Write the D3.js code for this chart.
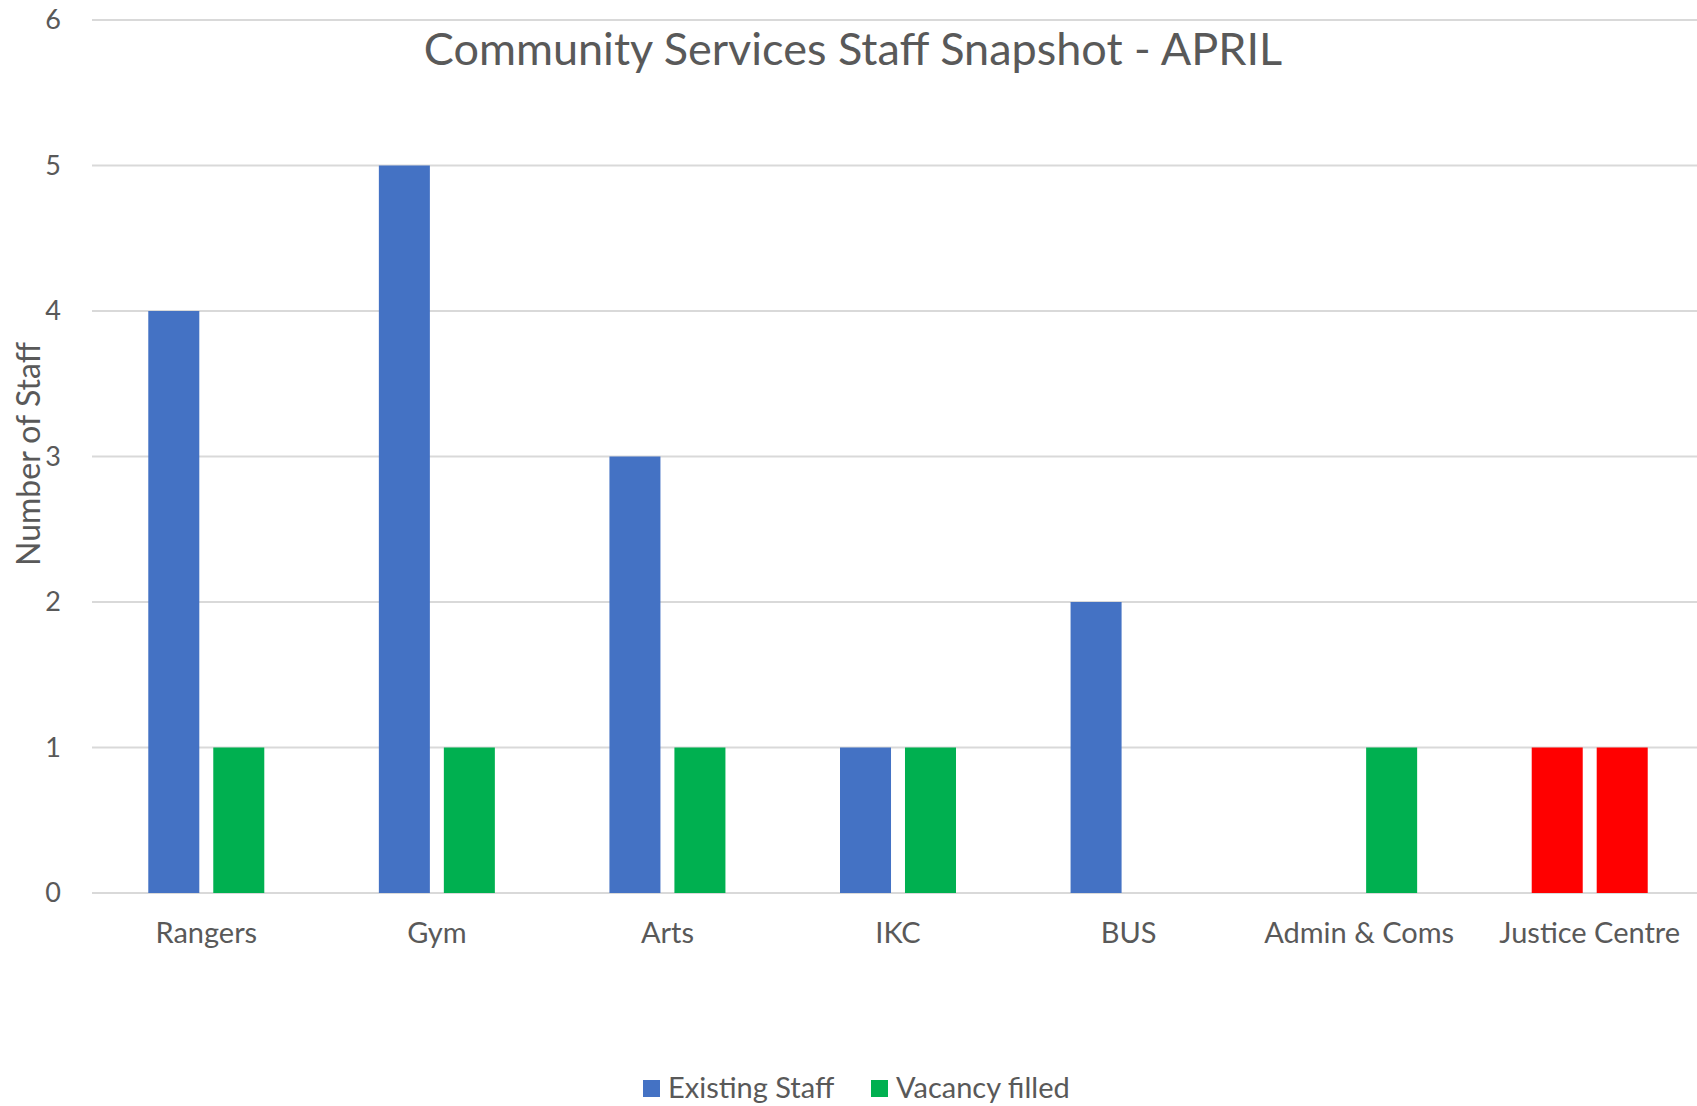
<!DOCTYPE html>
<html>
<head>
<meta charset="utf-8">
<script src="https://cdnjs.cloudflare.com/ajax/libs/d3/7.8.5/d3.min.js"></script>
<style>
  body { margin: 0; background: #fff; }
  text { font-family: Lato, "Open Sans", sans-serif; fill: #595959; }
</style>
</head>
<body>
<svg class="chart"></svg>
<script>
var categories = ["Rangers", "Gym", "Arts", "IKC", "BUS", "Admin & Coms", "Justice Centre"];
var seriesNames = ["Existing Staff", "Vacancy filled"];
var existingStaff = [4, 5, 3, 1, 2, null, 1];
var vacancyFilled = [1, 1, 1, 1, null, 1, 1];
var yTicks = [0, 1, 2, 3, 4, 5, 6];
var highlightCategory = "Justice Centre";

var width = 1697, height = 1106;
var margin = {top: 20, bottom: 213, left: 92};

var colors = {"Existing Staff": "#4472C4", "Vacancy filled": "#00B050"};
var highlightColor = "#FF0000";

var svg = d3.select(".chart")
    .attr("width", width)
    .attr("height", height);

// category bands run a little past the right edge, like the original
var x = d3.scaleBand()
    .domain(categories)
    .range([91, 1705]);

var y = d3.scaleLinear()
    .domain([0, 6])
    .range([height - margin.bottom, margin.top]);

// bars inside each category
var groupWidth = 116;
var x1 = d3.scaleBand()
    .domain(seriesNames)
    .range([0, groupWidth])
    .paddingInner(0.215);

// gridlines
svg.append("g")
    .selectAll("line")
    .data(yTicks)
  .enter().append("line")
    .attr("x1", margin.left)
    .attr("x2", width)
    .attr("y1", d => y(d))
    .attr("y2", d => y(d))
    .attr("stroke", "#D9D9D9")
    .attr("stroke-width", 2);

// y axis labels
var yAxis = d3.axisLeft(y).tickValues(yTicks).tickFormat(d3.format("d")).tickSize(0).tickPadding(0);
svg.append("g")
    .attr("transform", "translate(61,0)")
    .call(yAxis)
    .call(g => g.select(".domain").remove())
    .selectAll("text")
    .style("font-size", "27px")
    .attr("fill", "#595959");

// x axis labels
var xAxis = d3.axisBottom(x).tickSize(0).tickPadding(0);
svg.append("g")
    .attr("transform", "translate(0," + 922 + ")")
    .call(xAxis)
    .call(g => g.select(".domain").remove())
    .selectAll("text")
    .style("font-size", "29px")
    .attr("fill", "#595959");

// bars
var rows = [];
categories.forEach(function(c, i) {
  rows.push({cat: c, series: "Existing Staff", value: existingStaff[i]});
  rows.push({cat: c, series: "Vacancy filled", value: vacancyFilled[i]});
});

svg.append("g")
    .selectAll("rect")
    .data(rows.filter(d => d.value != null))
  .enter().append("rect")
    .attr("x", d => x(d.cat) + (x.bandwidth() - groupWidth) / 2 + x1(d.series))
    .attr("y", d => y(d.value))
    .attr("width", x1.bandwidth())
    .attr("height", d => y(0) - y(d.value))
    .attr("fill", d => d.cat == highlightCategory ? highlightColor : colors[d.series]);

// title
svg.append("text")
    .attr("x", 853)
    .attr("y", 65)
    .attr("text-anchor", "middle")
    .style("font-size", "45px")
    .text("Community Services Staff Snapshot - APRIL");

// y axis title
svg.append("text")
    .attr("transform", "translate(40," + 454 + ") rotate(-90)")
    .attr("text-anchor", "middle")
    .style("font-size", "32px")
    .text("Number of Staff");

// legend
var legend = svg.append("g")
    .selectAll("g")
    .data(seriesNames)
  .enter().append("g")
    .attr("transform", (d, i) => "translate(" + [643, 871][i] + ",1088)");

legend.append("rect")
    .attr("x", 0)
    .attr("y", -8)
    .attr("width", 17)
    .attr("height", 17)
    .attr("fill", d => colors[d]);

legend.append("text")
    .attr("x", 25)
    .attr("y", 10)
    .style("font-size", "29px")
    .text(d => d);
</script>
</body>
</html>
